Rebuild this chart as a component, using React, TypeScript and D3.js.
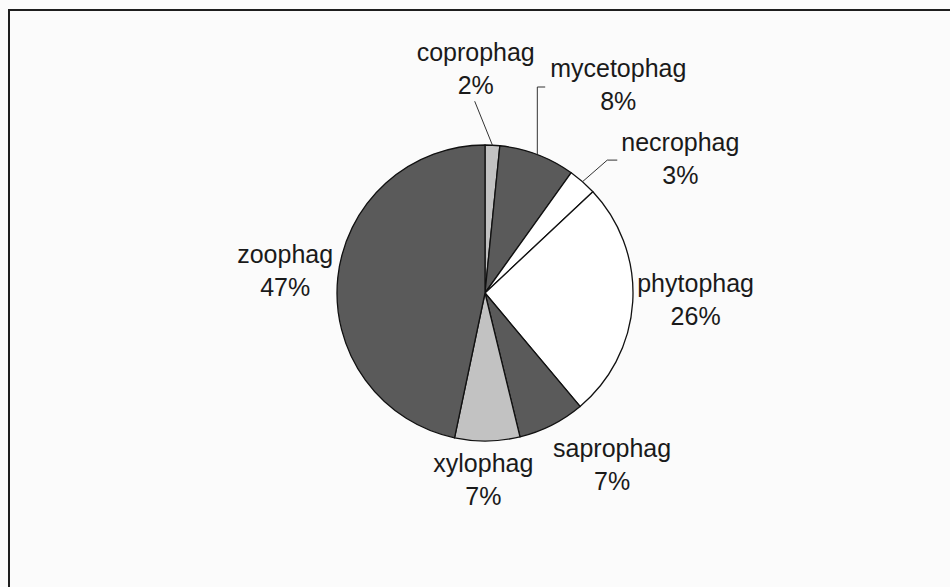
import React, { useEffect, useRef } from "react";
import * as d3 from "d3";

// feeding guilds, share of species (%)
const guilds = ["coprophag", "mycetophag", "necrophag", "phytophag", "saprophag", "xylophag", "zoophag"];
const shares = [1.6, 8.3, 3.1, 25.9, 7.3, 7.1, 46.7];
const fills = ["#c2c2c2", "#5a5a5a", "#ffffff", "#ffffff", "#5a5a5a", "#c2c2c2", "#5a5a5a"];
// label nudges from the default outside position, and leader style
const labelNudge: [number, number][] = [[-20, -39], [58, -35], [55, 5], [-2, -5], [31, 5], [-5, 0], [12, -4]];
const leader = ["straight", "elbowV", "elbowH", "", "", "", ""];

const width = 950;
const height = 587;
const cx = 485;
const cy = 293;
const radius = 148;
const lineGap = 33;

export default function App() {
  const svgRef = useRef<SVGSVGElement>(null);

  useEffect(() => {
    document.body.style.margin = "0";
    const svg = d3.select(svgRef.current);
    svg.selectAll("*").remove();

    svg.append("rect").attr("width", width).attr("height", height).attr("fill", "#fbfbfb");
    // chart frame, runs off the right/bottom of the picture
    svg
      .append("rect")
      .attr("x", 9)
      .attr("y", 10)
      .attr("width", 980)
      .attr("height", 600)
      .attr("fill", "none")
      .attr("stroke", "#1e1e1e")
      .attr("stroke-width", 2);

    const data = guilds.map((g, i) => ({ g, v: shares[i], i }));
    const pie = d3.pie<any>().value((d) => d.v).sort(null);
    const arcs = pie(data);
    const arc = d3.arc<any>().innerRadius(0).outerRadius(radius);

    const g = svg.append("g").attr("transform", `translate(${cx},${cy})`);
    g.selectAll("path")
      .data(arcs)
      .enter()
      .append("path")
      .attr("d", arc)
      .attr("fill", (d) => fills[d.data.i])
      .attr("stroke", "#111")
      .attr("stroke-width", 1.3)
      .attr("stroke-linejoin", "round");

    const rx = radius + 10 + 55;
    const ry = radius + 10 + 28;

    arcs.forEach((a, i) => {
      const mid = (a.startAngle + a.endAngle) / 2;
      const sx = Math.sin(mid);
      const sy = -Math.cos(mid);
      const lx = sx * rx + labelNudge[i][0];
      const b1 = sy * ry - 7 + labelNudge[i][1];
      const pct = Math.round(shares[i]) + "%";

      const t = g
        .append("text")
        .attr("text-anchor", "middle")
        .attr("font-family", "'Liberation Sans', Arial, sans-serif")
        .attr("font-size", 25)
        .attr("fill", "#1a1a1a");
      t.append("tspan").attr("x", lx).attr("y", b1).text(guilds[i]);
      t.append("tspan").attr("x", lx).attr("y", b1 + lineGap).text(pct);

      const box = (t.node() as SVGTextElement).getBBox();
      const px = sx * radius;
      const py = sy * radius;
      let pts: [number, number][] = [];
      if (leader[i] === "straight") {
        pts = [[lx - 1, box.y + box.height + 2], [px, py]];
      } else if (leader[i] === "elbowV") {
        const ay = b1 + 10;
        pts = [[box.x - 5, ay], [px, ay], [px, py]];
      } else if (leader[i] === "elbowH") {
        const ax = box.x - 4;
        const ay = b1 + 9;
        pts = [[ax, ay], [ax - 10, ay], [px, py]];
      }
      if (pts.length) {
        g.append("path")
          .attr("d", d3.line()(pts))
          .attr("fill", "none")
          .attr("stroke", "#333")
          .attr("stroke-width", 1);
      }
    });
  }, []);

  return <svg ref={svgRef} width={width} height={height} style={{ display: "block" }} />;
}
